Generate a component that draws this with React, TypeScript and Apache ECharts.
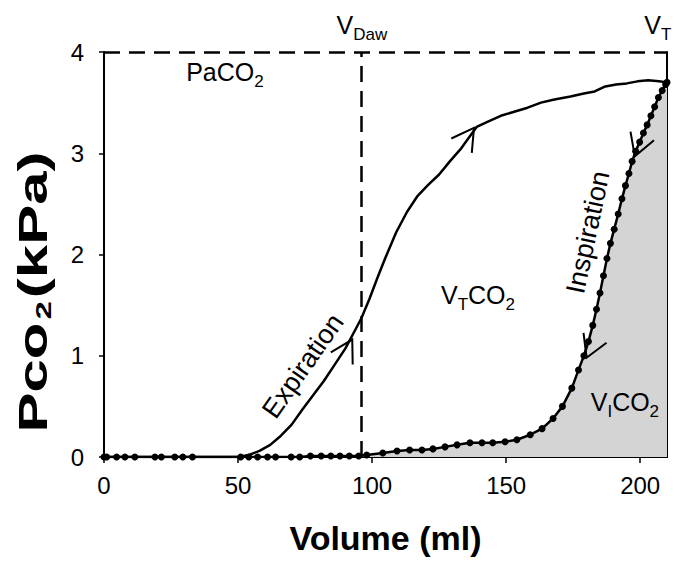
import React, { useEffect, useRef } from 'react';
import * as echarts from 'echarts';

const FONT = 'Liberation Sans, Arial, sans-serif';

const X_MIN = 0;
const X_MAX = 210;
const Y_MAX = 4;
const X_TICKS = [0, 50, 100, 150, 200];
const PACO2 = 4;
const V_DAW = 96;

// Expiration curve (solid line)
const expirationX = [0, 20, 40, 50, 54, 58, 62, 66, 70, 74, 78, 82, 86, 90, 93, 96, 99, 102, 105, 109, 113, 117, 121, 125, 129, 133, 136, 139, 143, 148, 153, 158, 163, 168, 174, 179, 183, 187, 191, 195, 199, 203, 207, 210];
const expirationY = [0, 0, 0, 0, 0.02, 0.06, 0.12, 0.21, 0.32, 0.47, 0.61, 0.75, 0.91, 1.07, 1.22, 1.37, 1.56, 1.77, 1.97, 2.22, 2.42, 2.58, 2.69, 2.79, 2.92, 3.04, 3.15, 3.26, 3.31, 3.37, 3.41, 3.45, 3.5, 3.53, 3.56, 3.59, 3.61, 3.66, 3.68, 3.69, 3.71, 3.72, 3.71, 3.7];

// Inspiration curve (line with dots, filled below)
const inspirationX = [0, 1, 4.7, 7.8, 11.5, 19, 21.4, 26.4, 29.4, 33, 51, 54, 57.3, 61, 64, 69.8, 73, 77, 81, 84.6, 88, 91.5, 95, 98, 104, 109.3, 114, 118.6, 122.7, 127.2, 131.7, 136.5, 141, 145, 149.6, 154, 159, 163.4, 167.5, 171, 174.5, 177, 179, 180.7, 182.3, 183.7, 185, 186.3, 187.6, 188.9, 190.3, 191.8, 193.2, 194.5, 195.8, 197, 198.3, 199.8, 201.2, 202.6, 204, 205.4, 206.8, 208.2, 209.5, 210];
const inspirationY = [0, 0, 0, 0, 0, 0, 0, 0, 0, 0, 0, 0, 0, 0, 0, 0, 0, 0.01, 0.01, 0.01, 0.01, 0.01, 0.01, 0.02, 0.04, 0.06, 0.07, 0.07, 0.08, 0.1, 0.12, 0.14, 0.14, 0.14, 0.15, 0.17, 0.22, 0.28, 0.38, 0.5, 0.68, 0.86, 1.0, 1.14, 1.3, 1.46, 1.62, 1.79, 1.96, 2.11, 2.25, 2.4, 2.55, 2.68, 2.8, 2.92, 3.02, 3.11, 3.2, 3.28, 3.37, 3.46, 3.55, 3.62, 3.68, 3.7];

// Arrowheads: tip position (data) and forward direction (degrees, counter-clockwise from +x)
const arrowX = [92.6, 138, 198, 180];
const arrowY = [1.16, 3.25, 2.97, 0.98];
const arrowDir = [61, 55, -110, -113];

// Annotation texts (data positions, rotation in degrees)
const labelX = [45.1, 96.2, 206.6, 139.5, 194.3, 74.2, 180.5];
const labelY = [3.8, 4.27, 4.27, 1.6, 0.54, 0.9, 2.22];
const labelRot = [0, 0, 0, 0, 0, 55, 78];
const labelText = [
  '{m|PaCO}{s|2}',
  '{m|V}{s|Daw}',
  '{m|V}{s|T}',
  '{m|V}{s|T}{m|CO}{s|2}',
  '{m|V}{s|I}{m|CO}{s|2}',
  '{r|Expiration}',
  '{r|Inspiration}',
];

const X_TITLE = 'Volume (ml)';
const Y_TITLE = '{a|Pco}{b|2}{a|(kPa)}';

export default function App() {
  const ref = useRef<HTMLDivElement>(null);
  useEffect(() => {
    document.body.style.margin = '0';
    const chart = echarts.init(ref.current!, null, { renderer: 'svg' });
    const rich = {
      m: { fontSize: 25, fontFamily: FONT, fill: '#000', lineHeight: 28, verticalAlign: 'middle' },
      r: { fontSize: 27, fontFamily: FONT, fill: '#000', lineHeight: 30, verticalAlign: 'middle' },
      s: { fontSize: 17, fontFamily: FONT, fill: '#000', lineHeight: 17, padding: [19, 0, 0, 0], verticalAlign: 'middle' },
    };
    chart.setOption({
      animation: false,
      backgroundColor: '#fff',
      grid: { left: 104, right: 18, top: 52, bottom: 116, outerBoundsMode: 'none' },
      graphic: [
        {
          type: 'text',
          x: 33,
          y: 292,
          rotation: Math.PI / 2,
          scaleX: 1.5,
          style: {
            text: Y_TITLE,
            align: 'center',
            verticalAlign: 'middle',
            fill: '#000',
            rich: {
              a: { fontSize: 40, fontWeight: 'bold', fill: '#000', fontFamily: FONT, lineHeight: 44 },
              b: { fontSize: 22, fontWeight: 'bold', fill: '#000', fontFamily: FONT, lineHeight: 22, padding: [22, 2, 0, 2] },
            },
          },
        },
      ],
      xAxis: {
        type: 'value',
        min: X_MIN,
        max: X_MAX,
        interval: 50,
        name: X_TITLE,
        nameLocation: 'middle',
        nameGap: 64,
        nameTextStyle: { fontSize: 34, fontWeight: 'bold', color: '#000', fontFamily: FONT },
        axisLine: { show: true, lineStyle: { color: '#000', width: 2 } },
        axisTick: { show: true, length: 6, lineStyle: { color: '#000', width: 1.5 }, customValues: X_TICKS },
        axisLabel: { fontSize: 24, color: '#000', fontFamily: FONT, margin: 16, customValues: X_TICKS },
        splitLine: { show: false },
      },
      yAxis: [
        {
          type: 'value',
          min: 0,
          max: Y_MAX,
          interval: 1,
          axisLine: { show: true, lineStyle: { color: '#000', width: 2 } },
          axisTick: { show: true, length: 5, lineStyle: { color: '#000', width: 1.5 } },
          axisLabel: { fontSize: 24, color: '#000', fontFamily: FONT, margin: 20 },
          splitLine: { show: false },
        },
        {
          type: 'value',
          min: 0,
          max: Y_MAX,
          position: 'right',
          axisLine: { show: true, lineStyle: { color: '#000', width: 2 } },
          axisTick: { show: false },
          axisLabel: { show: false },
          splitLine: { show: false },
        },
      ],
      series: [
        {
          type: 'line',
          name: 'Inspiration',
          data: inspirationX.map((x, i) => [x, inspirationY[i]]),
          symbol: 'circle',
          symbolSize: 7,
          showAllSymbol: true,
          itemStyle: { color: '#000' },
          lineStyle: { color: '#000', width: 2.5 },
          areaStyle: { color: '#d4d4d4', opacity: 1 },
          z: 2,
        },
        {
          type: 'line',
          name: 'Expiration',
          data: expirationX.map((x, i) => [x, expirationY[i]]),
          symbol: 'none',
          lineStyle: { color: '#000', width: 2.5 },
          z: 3,
          markLine: {
            silent: true,
            symbol: ['none', 'none'],
            label: { show: false },
            lineStyle: { color: '#000', width: 2.5, type: [16, 9] },
            data: [{ yAxis: PACO2 }, { xAxis: V_DAW }],
          },
        },
        {
          type: 'custom',
          name: 'arrows',
          data: arrowX.map((x, i) => [x, arrowY[i], arrowDir[i]]),
          z: 4,
          renderItem: (params: any, api: any) => {
            const p = api.coord([api.value(0), api.value(1)]);
            const d = (api.value(2) * Math.PI) / 180;
            const back = d + Math.PI;
            const h = (30 * Math.PI) / 180;
            const L = 25;
            const a1 = [p[0] + L * Math.cos(back + h), p[1] - L * Math.sin(back + h)];
            const a2 = [p[0] + L * Math.cos(back - h), p[1] - L * Math.sin(back - h)];
            return {
              type: 'polyline',
              shape: { points: [a1, p, a2] },
              style: { stroke: '#000', lineWidth: 2, fill: null },
            };
          },
        },
        {
          type: 'custom',
          name: 'labels',
          data: labelX.map((x, i) => [x, labelY[i], i]),
          z: 5,
          clip: false,
          renderItem: (params: any, api: any) => {
            const i = api.value(2);
            const p = api.coord([api.value(0), api.value(1)]);
            return {
              type: 'text',
              x: p[0],
              y: p[1],
              rotation: (labelRot[i] * Math.PI) / 180,
              style: {
                text: labelText[i],
                rich,
                fill: '#000',
                fontFamily: FONT,
                fontSize: 25,
                align: 'center',
                verticalAlign: 'middle',
              },
            };
          },
        },
      ],
    });
    return () => chart.dispose();
  }, []);
  return <div ref={ref} style={{ width: 685, height: 573 }} />;
}
